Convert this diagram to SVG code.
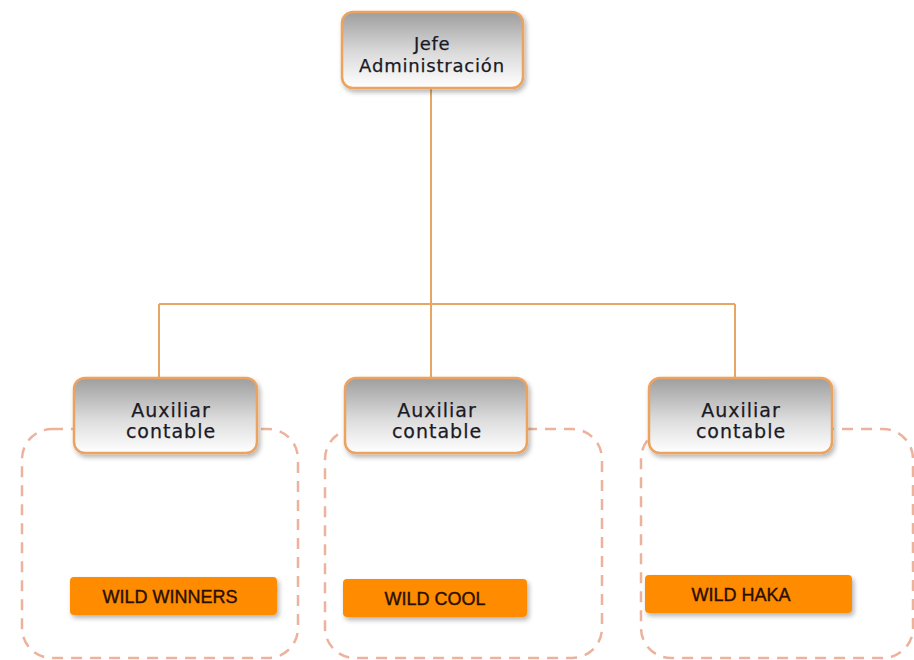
<svg xmlns="http://www.w3.org/2000/svg" width="914" height="660" viewBox="0 0 914 660">
<defs>
<linearGradient id="g" x1="0" y1="0" x2="0" y2="1">
<stop offset="0" stop-color="#9e9e9e"/>
<stop offset="0.55" stop-color="#dcdcdc"/>
<stop offset="1" stop-color="#ffffff"/>
</linearGradient>
<filter id="sh" x="-10%" y="-10%" width="125%" height="140%">
<feGaussianBlur in="SourceAlpha" stdDeviation="2.5"/>
<feOffset dx="2" dy="3" result="b"/>
<feComponentTransfer><feFuncA type="linear" slope="0.3"/></feComponentTransfer>
<feMerge><feMergeNode/><feMergeNode in="SourceGraphic"/></feMerge>
</filter>
</defs>
<style>
.grp{fill:none;stroke:#ecb29c;stroke-width:2.5;stroke-dasharray:11 8}
.node{fill:url(#g);stroke:#eba35e;stroke-width:2.5}
.conn{fill:none;stroke:#e4a764;stroke-width:2}
.t{font-family:"DejaVu Sans",sans-serif;fill:#1a1a26;text-anchor:middle;stroke:#1a1a26;stroke-width:0.25}
.tag{fill:#ff8c00}
.tt{font-family:"Liberation Sans",Arial,sans-serif;font-size:18px;fill:#2a0f00;text-anchor:middle;stroke:#2a0f00;stroke-width:0.4}
</style>
<rect width="914" height="660" fill="#ffffff"/>
<g id="groups">
<rect class="grp" x="22" y="429" width="276" height="229" rx="30"/>
<rect class="grp" x="325" y="429" width="277" height="229" rx="30"/>
<rect class="grp" x="641" y="429" width="272" height="229" rx="30"/>
</g>
<g id="connectors">
<path class="conn" d="M431 88 V304 M159 304 H735 M159 304 V378 M431 304 V378 M735 304 V378"/>
</g>
<g id="jefe">
<rect class="node" x="342" y="12" width="181" height="76" rx="11" filter="url(#sh)"/>
<text class="t" x="432" y="50" font-size="18" letter-spacing="0.6">Jefe</text>
<text class="t" x="432" y="72" font-size="18" letter-spacing="0.8">Administración</text>
</g>
<g id="aux1">
<rect class="node" x="74" y="378" width="183" height="75" rx="11" filter="url(#sh)"/>
<text class="t" x="171" y="417" font-size="19" letter-spacing="1">Auxiliar</text>
<text class="t" x="171" y="438" font-size="19" letter-spacing="1">contable</text>
</g>
<g id="aux2">
<rect class="node" x="345" y="378" width="182" height="75" rx="11" filter="url(#sh)"/>
<text class="t" x="437" y="417" font-size="19" letter-spacing="1">Auxiliar</text>
<text class="t" x="437" y="438" font-size="19" letter-spacing="1">contable</text>
</g>
<g id="aux3">
<rect class="node" x="649" y="378" width="183" height="75" rx="11" filter="url(#sh)"/>
<text class="t" x="741" y="417" font-size="19" letter-spacing="1">Auxiliar</text>
<text class="t" x="741" y="438" font-size="19" letter-spacing="1">contable</text>
</g>
<g id="wildwinners">
<rect class="tag" x="70" y="577" width="207" height="38" rx="4" filter="url(#sh)"/>
<text class="tt" x="170" y="603">WILD WINNERS</text>
</g>
<g id="wildcool">
<rect class="tag" x="343" y="579" width="184" height="38" rx="4" filter="url(#sh)"/>
<text class="tt" x="435" y="605">WILD COOL</text>
</g>
<g id="wildhaka">
<rect class="tag" x="645" y="575" width="207" height="38" rx="4" filter="url(#sh)"/>
<text class="tt" x="741" y="601">WILD HAKA</text>
</g>
</svg>
